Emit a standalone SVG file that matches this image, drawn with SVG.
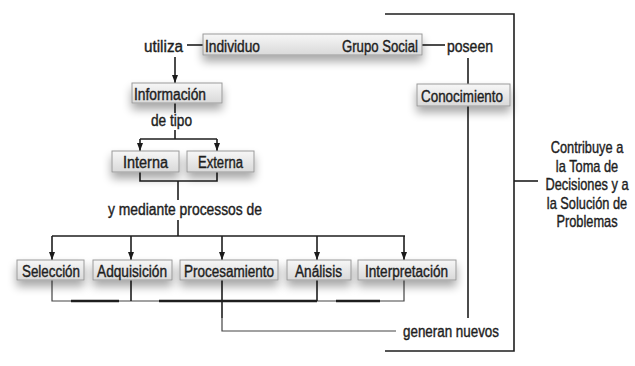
<svg xmlns="http://www.w3.org/2000/svg" width="635" height="366" viewBox="0 0 635 366">
<defs>
<linearGradient id="g" x1="0" y1="0" x2="0" y2="1">
<stop offset="0" stop-color="#f7f7f7"/>
<stop offset="1" stop-color="#d9d9d9"/>
</linearGradient>
<filter id="sh" x="-30%" y="-80%" width="160%" height="300%">
<feGaussianBlur in="SourceAlpha" stdDeviation="5"/>
<feOffset dx="0" dy="6" result="b"/>
<feComponentTransfer><feFuncA type="linear" slope="0.35"/></feComponentTransfer>
<feMerge><feMergeNode/><feMergeNode in="SourceGraphic"/></feMerge>
</filter>
<marker id="ar" markerWidth="8" markerHeight="6" refX="8" refY="3" orient="auto" markerUnits="userSpaceOnUse" viewBox="0 0 8 6">
<path d="M0,0 L8,3 L0,6 Z" fill="#1a1a1a"/>
</marker>
</defs>
<style>
.box{fill:url(#g);stroke:#9a9a9a;stroke-width:1;filter:url(#sh)}
.t{font-family:"Liberation Sans",Arial,sans-serif;font-size:16px;fill:#1e1e1e;stroke:#1e1e1e;stroke-width:0.4}
.c{text-anchor:middle}
.ln{fill:none;stroke:#1e1e1e;stroke-width:1.6}
.thin{fill:none;stroke:#444;stroke-width:1.2}
.thick{fill:none;stroke:#1e1e1e;stroke-width:2.4}
</style>
<rect width="635" height="366" fill="#fff"/>

<g id="connectors">
<path class="ln" d="M187,45 H203"/>
<path class="ln" d="M422,45 H445"/>
<path class="ln" d="M175,57 V83" marker-end="url(#ar)"/>
<path class="ln" d="M468,58 V84"/>
<path class="ln" d="M468,106 V318"/>
<path class="ln" d="M385,14 H514 V351 H385"/>
<path class="ln" d="M514,181 H538"/>
<path class="ln" d="M175,103 V113"/>
<path class="ln" d="M175,130 V139"/>
<path class="ln" d="M140,139 H217"/>
<path class="ln" d="M140,139 V151" marker-end="url(#ar)"/>
<path class="ln" d="M217,139 V151" marker-end="url(#ar)"/>
<path class="ln" d="M140,172 V181 H217 V172"/>
<path class="ln" d="M178,181 V200"/>
<path class="ln" d="M178,220 V236"/>
<path class="ln" d="M52,236 H405"/>
<path class="ln" d="M52,236 V260" marker-end="url(#ar)"/>
<path class="ln" d="M131,236 V260" marker-end="url(#ar)"/>
<path class="ln" d="M222,236 V260" marker-end="url(#ar)"/>
<path class="ln" d="M317,236 V260" marker-end="url(#ar)"/>
<path class="ln" d="M404,236 V260" marker-end="url(#ar)"/>
<path class="thin" d="M52,280 V301 H404 V280"/>
<path class="ln" d="M131,280 V301"/>
<path class="ln" d="M222,280 V301"/>
<path class="ln" d="M317,280 V301"/>
<path class="thick" d="M71,301 H119 M159,301 H317 M336,301 H380"/>
<path class="ln" d="M222,301 V318"/>
<path class="thin" d="M222,318 V331 H396"/>
</g>

<g id="n-utiliza"><text class="t" x="144" y="52" textLength="39" lengthAdjust="spacingAndGlyphs">utiliza</text></g>
<g id="n-individuo">
<rect class="box" x="203" y="34" width="219" height="21"/>
<text class="t" x="205" y="52" textLength="55" lengthAdjust="spacingAndGlyphs">Individuo</text>
<text class="t" x="342" y="52" textLength="76" lengthAdjust="spacingAndGlyphs">Grupo Social</text>
</g>
<g id="n-poseen"><text class="t" x="447" y="52" textLength="46" lengthAdjust="spacingAndGlyphs">poseen</text></g>
<g id="n-informacion">
<rect class="box" x="132" y="83" width="90" height="20"/>
<text class="t" x="134" y="100" textLength="72" lengthAdjust="spacingAndGlyphs">Información</text>
</g>
<g id="n-detipo"><text class="t" x="151" y="126" textLength="41" lengthAdjust="spacingAndGlyphs">de tipo</text></g>
<g id="n-interna">
<rect class="box" x="112" y="151" width="67" height="21"/>
<text class="t" x="123" y="168" textLength="45" lengthAdjust="spacingAndGlyphs">Interna</text>
</g>
<g id="n-externa">
<rect class="box" x="187" y="151" width="67" height="21"/>
<text class="t" x="198" y="168" textLength="45" lengthAdjust="spacingAndGlyphs">Externa</text>
</g>
<g id="n-mediante"><text class="t" x="108" y="215" textLength="154" lengthAdjust="spacingAndGlyphs">y mediante processos de</text></g>
<g id="n-seleccion">
<rect class="box" x="17" y="260" width="67" height="20"/>
<text class="t" x="22" y="277" textLength="58" lengthAdjust="spacingAndGlyphs">Selección</text>
</g>
<g id="n-adquisicion">
<rect class="box" x="93" y="260" width="79" height="20"/>
<text class="t" x="97" y="277" textLength="70" lengthAdjust="spacingAndGlyphs">Adquisición</text>
</g>
<g id="n-procesamiento">
<rect class="box" x="180" y="260" width="98" height="20"/>
<text class="t" x="184" y="277" textLength="90" lengthAdjust="spacingAndGlyphs">Procesamiento</text>
</g>
<g id="n-analisis">
<rect class="box" x="287" y="260" width="64" height="20"/>
<text class="t" x="295" y="277" textLength="47" lengthAdjust="spacingAndGlyphs">Análisis</text>
</g>
<g id="n-interpretacion">
<rect class="box" x="358" y="260" width="98" height="20"/>
<text class="t" x="365" y="277" textLength="83" lengthAdjust="spacingAndGlyphs">Interpretación</text>
</g>
<g id="n-conocimiento">
<rect class="box" x="417" y="84" width="93" height="22"/>
<text class="t" x="421" y="102" textLength="82" lengthAdjust="spacingAndGlyphs">Conocimiento</text>
</g>
<g id="n-generan"><text class="t" x="403" y="337" textLength="96" lengthAdjust="spacingAndGlyphs">generan nuevos</text></g>
<g id="n-contribuye" class="t c">
<text transform="translate(587,153) scale(0.8,1)">Contribuye a</text>
<text transform="translate(587,171.5) scale(0.8,1)">la Toma de</text>
<text transform="translate(587,190) scale(0.8,1)">Decisiones y a</text>
<text transform="translate(587,208.5) scale(0.8,1)">la Solución de</text>
<text transform="translate(587,227) scale(0.8,1)">Problemas</text>
</g>
</svg>
